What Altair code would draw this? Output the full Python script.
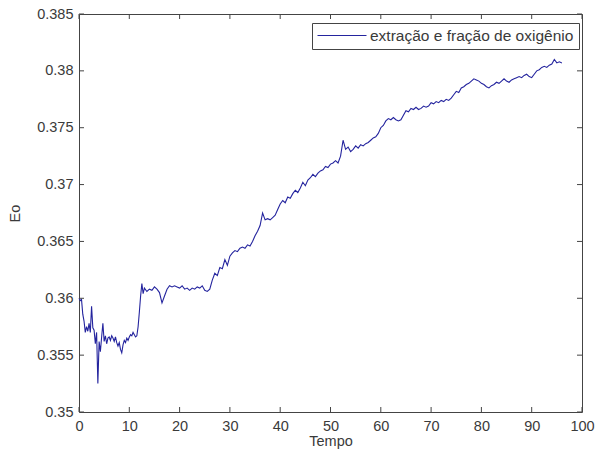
import altair as alt
import pandas as pd

# Oxygen extraction fraction (Eo) over time
tempo = [
    0, 0.25, 0.5, 0.75, 1.0, 1.25, 1.5, 1.75, 2.0, 2.25, 2.5, 2.75,
    3.0, 3.25, 3.5, 3.75, 4.0, 4.25, 4.5, 4.75, 5.0, 5.25, 5.5, 5.75,
    6.0, 6.25, 6.5, 6.75, 7.0, 7.25, 7.5, 7.75, 8.0, 8.25, 8.5, 8.75,
    9.0, 9.25, 9.5, 9.75, 10.0, 10.25, 10.5, 10.75, 11.0, 11.25, 11.5, 11.75,
    12.0, 12.25, 12.5, 12.75,
    13.0, 13.5, 14.0, 14.5, 15.0, 15.5, 16.0, 16.5, 17.0, 17.5, 18.0, 18.5,
    19.0, 19.5, 20.0, 20.5, 21.0, 21.5, 22.0, 22.5, 23.0, 23.5, 24.0, 24.5,
    25.0, 25.5, 26.0, 26.5, 27.0, 27.5, 28.0, 28.5, 29.0, 29.5, 30.0, 30.5,
    31.0, 31.5, 32.0, 32.5, 33.0, 33.5, 34.0, 34.5, 35.0, 35.5, 36.0, 36.5,
    37.0, 37.5, 38.0, 38.5, 39.0, 39.5, 40.0, 40.5, 41.0, 41.5, 42.0, 42.5,
    43.0, 43.5, 44.0, 44.5, 45.0, 45.5, 46.0, 46.5, 47.0, 47.5, 48.0, 48.5,
    49.0, 49.5, 50.0, 50.5, 51.0, 51.5, 52.0, 52.5, 53.0, 53.5, 54.0, 54.5,
    55.0, 55.5, 56.0, 56.5, 57.0, 57.5, 58.0, 58.5, 59.0, 59.5, 60.0, 60.5,
    61.0, 61.5, 62.0, 62.5, 63.0, 63.5, 64.0, 64.5, 65.0, 65.5, 66.0, 66.5,
    67.0, 67.5, 68.0, 68.5, 69.0, 69.5, 70.0, 70.5, 71.0, 71.5, 72.0, 72.5,
    73.0, 73.5, 74.0, 74.5, 75.0, 75.5, 76.0, 76.5, 77.0, 77.5, 78.0, 78.5,
    79.0, 79.5, 80.0, 80.5, 81.0, 81.5, 82.0, 82.5, 83.0, 83.5, 84.0, 84.5,
    85.0, 85.5, 86.0, 86.5, 87.0, 87.5, 88.0, 88.5, 89.0, 89.5, 90.0, 90.5,
    91.0, 91.5, 92.0, 92.5, 93.0, 93.5, 94.0, 94.5, 95.0, 95.5, 96.0,
]

eo = [
    0.3600, 0.3598, 0.3599, 0.3586, 0.3580, 0.3570, 0.3575, 0.3571, 0.3578, 0.3570, 0.3593, 0.3574,
    0.3572, 0.3560, 0.3570, 0.3525, 0.3562, 0.3553, 0.3566, 0.3578, 0.3562, 0.3567, 0.3560, 0.3565,
    0.3566, 0.3563, 0.3567, 0.3565, 0.3562, 0.3566, 0.3561, 0.3558, 0.3561, 0.3555, 0.3552, 0.3559,
    0.3563, 0.3561, 0.3565, 0.3563, 0.3566, 0.3568, 0.3567, 0.3570, 0.3568, 0.3566, 0.3567, 0.3575,
    0.3588, 0.3602, 0.3613, 0.3604,
    0.3609, 0.3606, 0.3608, 0.3607, 0.3610, 0.3608, 0.3605, 0.3596, 0.3602, 0.3608, 0.3611, 0.3610,
    0.3611, 0.3610, 0.3609, 0.3611, 0.3608, 0.3609, 0.3607, 0.3609, 0.3608, 0.3610, 0.3609, 0.3611,
    0.3607, 0.3606, 0.3608, 0.3616, 0.3622, 0.3620, 0.3627, 0.3626, 0.3634, 0.3629, 0.3637, 0.3640,
    0.3642, 0.3641, 0.3644, 0.3645, 0.3644, 0.3647, 0.3646, 0.3650, 0.3655, 0.3659, 0.3664, 0.3675,
    0.3669, 0.3670, 0.3669, 0.3671, 0.3673, 0.3678, 0.3683, 0.3686, 0.3684, 0.3689, 0.3688, 0.3692,
    0.3695, 0.3693, 0.3697, 0.3702, 0.3699, 0.3704, 0.3706, 0.3709, 0.3707, 0.3710, 0.3712, 0.3713,
    0.3716, 0.3715, 0.3718, 0.3719, 0.3721, 0.3719, 0.3725, 0.3739, 0.3731, 0.3733, 0.3729, 0.3731,
    0.3734, 0.3732, 0.3735, 0.3734, 0.3736, 0.3737, 0.3739, 0.3741, 0.3742, 0.3745, 0.3750, 0.3752,
    0.3756, 0.3758, 0.3757, 0.3759, 0.3757, 0.3756, 0.3757, 0.3761, 0.3765, 0.3764, 0.3767, 0.3766,
    0.3768, 0.3766, 0.3767, 0.3769, 0.3768, 0.3769, 0.3772, 0.3771, 0.3773, 0.3772, 0.3774, 0.3773,
    0.3775, 0.3774, 0.3776, 0.3779, 0.3782, 0.3781, 0.3785, 0.3786, 0.3788, 0.3789, 0.3791, 0.3793,
    0.3792, 0.3791, 0.3789, 0.3788, 0.3786, 0.3785, 0.3787, 0.3788, 0.3790, 0.3789, 0.3791, 0.3793,
    0.3791, 0.3790, 0.3792, 0.3793, 0.3794, 0.3795, 0.3794, 0.3796, 0.3797, 0.3795, 0.3794, 0.3797,
    0.3800, 0.3801, 0.3803, 0.3804, 0.3803, 0.3805, 0.3806, 0.3810, 0.3807, 0.3808, 0.3807,
]

serie = "extração e fração de oxigênio"
x_ticks = [0, 10, 20, 30, 40, 50, 60, 70, 80, 90, 100]
y_ticks = [0.35, 0.355, 0.36, 0.365, 0.37, 0.375, 0.38, 0.385]

W, H = 503, 398
FONT = "Liberation Sans"
TXT = "#3a3a3a"
TICK = "#444444"

df = pd.DataFrame({"Tempo": tempo, "Eo": eo, "serie": [serie] * len(tempo)})
xt = pd.DataFrame({"Tempo": x_ticks})
yt = pd.DataFrame({"Eo": y_ticks})

xs = alt.Scale(domain=[0, 100], nice=False, zero=False)
ys = alt.Scale(domain=[0.35, 0.385], nice=False, zero=False)

x_axis = alt.Axis(values=x_ticks, title="Tempo", domain=False, ticks=False,
                  grid=False, labelPadding=7, titlePadding=2, labelFlush=False)
y_axis = alt.Axis(values=y_ticks, title="Eo", format="~g", domain=False,
                  ticks=False, grid=False, labelPadding=6, titlePadding=14)

X = alt.X("Tempo:Q", scale=xs, axis=x_axis)
Y = alt.Y("Eo:Q", scale=ys, axis=y_axis)

line = alt.Chart(df).mark_line(strokeWidth=1.1, interpolate="linear").encode(
    x=X,
    y=Y,
    color=alt.Color("serie:N", scale=alt.Scale(range=["#24249e"]), title=None,
                    legend=alt.Legend(orient="none", legendX=233, legendY=9,
                                      symbolType="stroke", symbolSize=2401,
                                      symbolStrokeWidth=1, strokeColor=TICK,
                                      fillColor="white", padding=5,
                                      clipHeight=15,
                                      labelFont=FONT, labelFontSize=15.5,
                                      labelColor=TXT, labelOffset=3,
                                      labelLimit=400)),
)

# Inward tick marks on all four sides of the box
tick_bottom = alt.Chart(xt).mark_rule(color=TICK, strokeWidth=1).encode(
    x=X, y=alt.value(H), y2=alt.value(H - 5))
tick_top = alt.Chart(xt).mark_rule(color=TICK, strokeWidth=1).encode(
    x=X, y=alt.value(0), y2=alt.value(5))
tick_left = alt.Chart(yt).mark_rule(color=TICK, strokeWidth=1).encode(
    y=Y, x=alt.value(0), x2=alt.value(5))
tick_right = alt.Chart(yt).mark_rule(color=TICK, strokeWidth=1).encode(
    y=Y, x=alt.value(W), x2=alt.value(W - 5))

chart = alt.layer(line, tick_bottom, tick_top, tick_left, tick_right).properties(
    width=W, height=H,
    autosize=alt.AutoSizeParams(type="none"),
    padding={"left": 79, "top": 14, "right": 13, "bottom": 42},
    background="white",
).configure_view(
    stroke=TICK, strokeWidth=1
).configure_axis(
    labelFont=FONT, labelFontSize=14.5, labelColor=TXT,
    titleFont=FONT, titleFontSize=14.5, titleColor=TXT, titleFontWeight="normal",
)

chart.save("out.html", embed_options={"renderer": "svg", "actions": False})
